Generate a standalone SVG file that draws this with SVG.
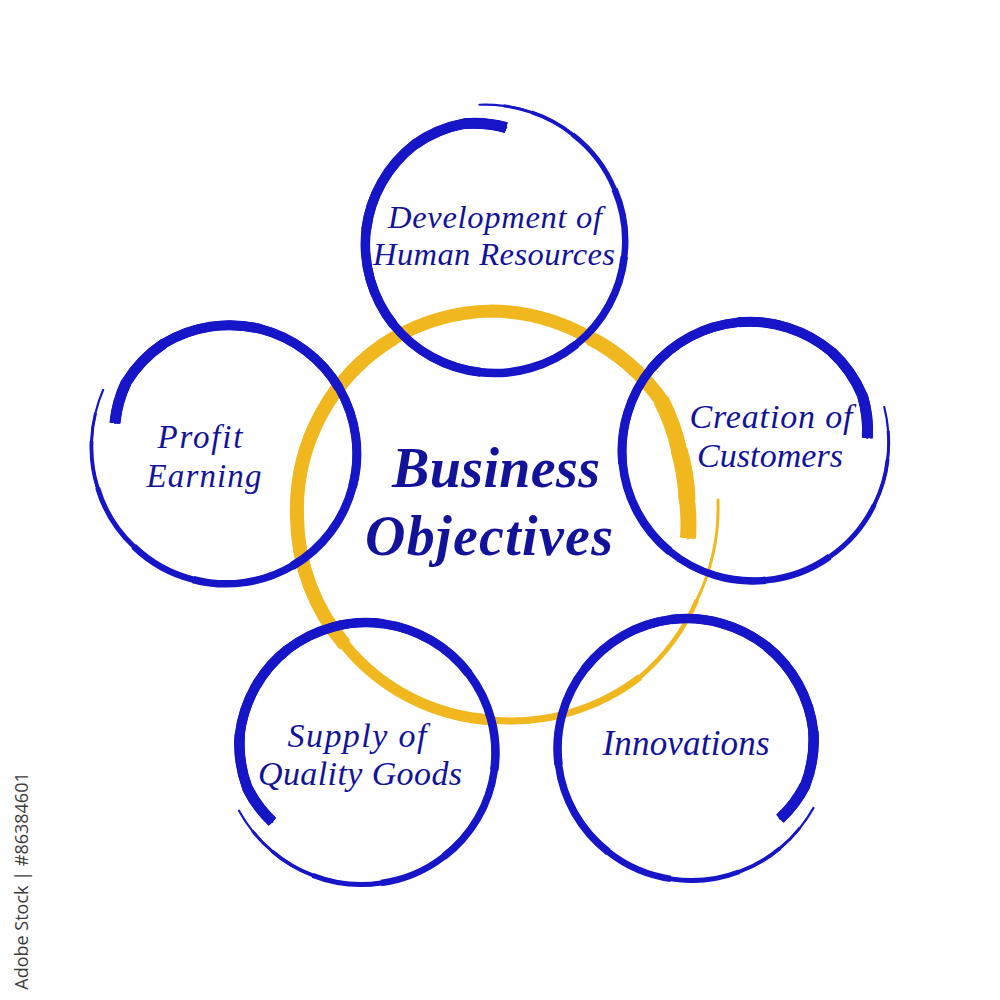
<svg xmlns="http://www.w3.org/2000/svg" width="1000" height="1000" viewBox="0 0 1000 1000">
<defs>
<style>
.lbl{font-family:"Liberation Serif","Times New Roman",serif;font-style:italic;fill:#12129a;text-anchor:middle}
.title{font-weight:bold;font-size:56px}
.wm{font-family:"Open Sans","Liberation Sans",sans-serif;font-size:18px;fill:#3c3c3c;text-anchor:middle}
</style>
<g id="ring" fill="none" stroke="#1616c8" stroke-linecap="butt" stroke-linejoin="round">
<path stroke-width="2.2" stroke-linecap="round" d="M116,0 A120,120 0 0 1 115.6,42.1 A125,125 0 0 1 89.4,89.4 A127.5,127.5 0 0 1 0,128.5 A129,129 0 0 1 -91.6,91.6 A130,130 0 0 1 -130,0 A130,130 0 0 1 -92.3,-92.3 A131,131 0 0 1 0,-131 A131.5,131.5 0 0 1 66,-114.3 A133,133 0 0 1 116,-67 A135,135 0 0 1 133.9,-23.6 A137,137 0 0 1 137.4,4.8 A138,138 0 0 1 136,28.9"/>
<path stroke-width="3" d="M116,0 A120,120 0 0 1 115.6,42.1 A125,125 0 0 1 89.4,89.4 A127.5,127.5 0 0 1 0,128.5 A129,129 0 0 1 -91.6,91.6 A130,130 0 0 1 -130,0 A130,130 0 0 1 -92.3,-92.3 A131,131 0 0 1 0,-131 A131.5,131.5 0 0 1 66,-114.3 A133,133 0 0 1 116,-67 A135,135 0 0 1 133.9,-23.6 A137,137 0 0 1 137.4,4.8"/>
<path stroke-width="3.8" d="M116,0 A120,120 0 0 1 115.6,42.1 A125,125 0 0 1 89.4,89.4 A127.5,127.5 0 0 1 0,128.5 A129,129 0 0 1 -91.6,91.6 A130,130 0 0 1 -130,0 A130,130 0 0 1 -92.3,-92.3 A131,131 0 0 1 0,-131 A131.5,131.5 0 0 1 66,-114.3 A133,133 0 0 1 116,-67 A135,135 0 0 1 133.9,-23.6"/>
<path stroke-width="5" d="M116,0 A120,120 0 0 1 115.6,42.1 A125,125 0 0 1 89.4,89.4 A127.5,127.5 0 0 1 0,128.5 A129,129 0 0 1 -91.6,91.6 A130,130 0 0 1 -130,0 A130,130 0 0 1 -92.3,-92.3 A131,131 0 0 1 0,-131 A131.5,131.5 0 0 1 66,-114.3 A133,133 0 0 1 116,-67"/>
<path stroke-width="6.5" d="M116,0 A120,120 0 0 1 115.6,42.1 A125,125 0 0 1 89.4,89.4 A127.5,127.5 0 0 1 0,128.5 A129,129 0 0 1 -91.6,91.6 A130,130 0 0 1 -130,0 A130,130 0 0 1 -92.3,-92.3 A131,131 0 0 1 0,-131 A131.5,131.5 0 0 1 66,-114.3"/>
<path stroke-width="7.5" d="M116,0 A120,120 0 0 1 115.6,42.1 A125,125 0 0 1 89.4,89.4 A127.5,127.5 0 0 1 0,128.5 A129,129 0 0 1 -91.6,91.6 A130,130 0 0 1 -130,0 A130,130 0 0 1 -92.3,-92.3 A131,131 0 0 1 0,-131"/>
<path stroke-width="8.5" d="M116,0 A120,120 0 0 1 115.6,42.1 A125,125 0 0 1 89.4,89.4 A127.5,127.5 0 0 1 0,128.5 A129,129 0 0 1 -91.6,91.6 A130,130 0 0 1 -130,0 A130,130 0 0 1 -92.3,-92.3"/>
<path stroke-width="9" d="M116,0 A120,120 0 0 1 115.6,42.1 A125,125 0 0 1 89.4,89.4 A127.5,127.5 0 0 1 0,128.5 A129,129 0 0 1 -91.6,91.6 A130,130 0 0 1 -130,0"/>
<path stroke-width="9.5" d="M116,0 A120,120 0 0 1 115.6,42.1 A125,125 0 0 1 89.4,89.4 A127.5,127.5 0 0 1 0,128.5 A129,129 0 0 1 -91.6,91.6"/>
<path stroke-width="10" d="M116,0 A120,120 0 0 1 115.6,42.1 A125,125 0 0 1 89.4,89.4 A127.5,127.5 0 0 1 0,128.5"/>
<path stroke-width="10.5" d="M116,0 A120,120 0 0 1 115.6,42.1 A125,125 0 0 1 89.4,89.4"/>
<path stroke-width="11" d="M116,0 A120,120 0 0 1 115.6,42.1"/>
</g>
</defs>
<rect width="1000" height="1000" fill="#ffffff"/>

<g id="node-center">
<g fill="none" stroke="#f0b81e" stroke-linecap="butt" stroke-linejoin="round">
<path stroke-width="3" stroke-linecap="round" d="M688,538 A197,197 0 0 0 687,500 A197,197 0 0 0 679,450 A200,200 0 0 0 661,400 A200,200 0 0 0 590,338 A205,205 0 0 0 492,311 A205,205 0 0 0 394,338 A200,200 0 0 0 297,516 A200,200 0 0 0 345,645 A205,205 0 0 0 492,720 A210,210 0 0 0 640,677 A212,212 0 0 0 697,600 A215,215 0 0 0 718,500"/>
<path stroke-width="4.5" d="M688,538 A197,197 0 0 0 687,500 A197,197 0 0 0 679,450 A200,200 0 0 0 661,400 A200,200 0 0 0 590,338 A205,205 0 0 0 492,311 A205,205 0 0 0 394,338 A200,200 0 0 0 297,516 A200,200 0 0 0 345,645 A205,205 0 0 0 492,720 A210,210 0 0 0 640,677 A212,212 0 0 0 697,600"/>
<path stroke-width="7" d="M688,538 A197,197 0 0 0 687,500 A197,197 0 0 0 679,450 A200,200 0 0 0 661,400 A200,200 0 0 0 590,338 A205,205 0 0 0 492,311 A205,205 0 0 0 394,338 A200,200 0 0 0 297,516 A200,200 0 0 0 345,645 A205,205 0 0 0 492,720 A210,210 0 0 0 640,677"/>
<path stroke-width="11" d="M688,538 A197,197 0 0 0 687,500 A197,197 0 0 0 679,450 A200,200 0 0 0 661,400 A200,200 0 0 0 590,338 A205,205 0 0 0 492,311 A205,205 0 0 0 394,338 A200,200 0 0 0 297,516 A200,200 0 0 0 345,645 A205,205 0 0 0 492,720"/>
<path stroke-width="13" d="M688,538 A197,197 0 0 0 687,500 A197,197 0 0 0 679,450 A200,200 0 0 0 661,400 A200,200 0 0 0 590,338 A205,205 0 0 0 492,311 A205,205 0 0 0 394,338 A200,200 0 0 0 297,516 A200,200 0 0 0 345,645"/>
<path stroke-width="14" d="M394,338 A200,200 0 0 0 297,516 A200,200 0 0 0 345,645"/>
<path stroke-width="14.5" d="M688,538 A197,197 0 0 0 687,500 A197,197 0 0 0 679,450 A200,200 0 0 0 661,400 A200,200 0 0 0 590,338"/>
<path stroke-width="16" d="M688,538 A197,197 0 0 0 687,500 A197,197 0 0 0 679,450 A200,200 0 0 0 661,400"/>
<path stroke-width="17" d="M687,500 A197,197 0 0 0 679,450"/>
</g>
<text class="lbl title" x="496" y="487" textLength="208">Business</text>
<text class="lbl title" x="489" y="555" textLength="248">Objectives</text>
</g>

<g id="node-hr">
<use href="#ring" transform="translate(494,243) rotate(-84) scale(1,-1)"/>
<text class="lbl" font-size="32.5" x="495" y="228" textLength="214">Development of</text>
<text class="lbl" font-size="32.5" x="494" y="265" textLength="242">Human Resources</text>
</g>

<g id="node-profit">
<use href="#ring" transform="translate(227,453) rotate(195)"/>
<text class="lbl" font-size="33" x="200" y="448" textLength="85">Profit</text>
<text class="lbl" font-size="33" x="204" y="487" textLength="115">Earning</text>
</g>

<g id="node-customers">
<use href="#ring" transform="translate(752,450) rotate(-6) scale(1,-1)"/>
<text class="lbl" font-size="34" x="771" y="428" textLength="163">Creation of</text>
<text class="lbl" font-size="34" x="770" y="467" textLength="146">Customers</text>
</g>

<g id="node-supply">
<use href="#ring" transform="translate(365,752) rotate(143)"/>
<text class="lbl" font-size="34" x="357" y="747" textLength="139">Supply of</text>
<text class="lbl" font-size="34" x="360" y="785" textLength="204">Quality Goods</text>
</g>

<g id="node-innovations">
<use href="#ring" transform="translate(688,748) rotate(37.5) scale(1,-1)"/>
<text class="lbl" font-size="35" x="686" y="755" textLength="167">Innovations</text>
</g>

<text class="wm" transform="translate(28,881) rotate(-90)">Adobe Stock | #86384601</text>
</svg>
